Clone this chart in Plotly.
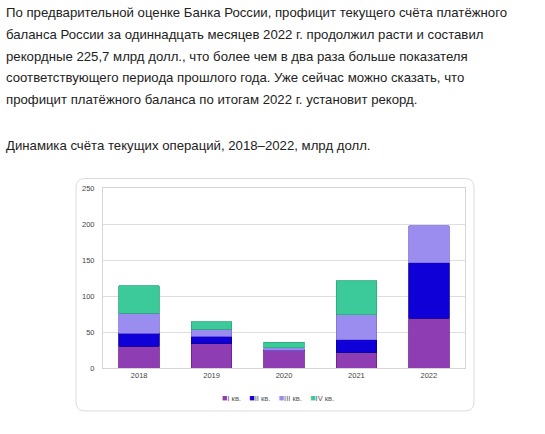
import plotly.graph_objects as go

W, H = 545, 434
# plot area in pixels
PL, PR, PT, PB = 103, 465, 188, 368

years = ["2018", "2019", "2020", "2021", "2022"]
quarters = ["I кв.", "II кв.", "III кв.", "IV кв."]
q1 = [30.0, 33.6, 23.8, 21.0, 69.0]
q2 = [18.0, 10.2, 1.0, 18.0, 77.3]
q3 = [28.0, 10.0, 3.5, 35.0, 51.4]
q4 = [38.3, 10.7, 7.3, 47.3, None]
y_ticks = [0, 50, 100, 150, 200, 250]

fills = ["#8f3db3", "#1000d8", "#9b8cf0", "#3cca9a"]
edges = ["#6a1f8a", "#0a0090", "#7e6fd8", "#2aa77c"]

PARAGRAPH = [
    "По предварительной оценке Банка России, профицит текущего счёта платёжного",
    "баланса России за одиннадцать месяцев 2022 г. продолжил расти и составил",
    "рекордные 225,7 млрд долл., что более чем в два раза больше показателя",
    "соответствующего периода прошлого года. Уже сейчас можно сказать, что",
    "профицит платёжного баланса по итогам 2022 г. установит рекорд.",
]
CAPTION = "Динамика счёта текущих операций, 2018–2022, млрд долл."
TEXT_FONT = dict(family="Liberation Sans, Arial", size=13.2, color="#222")


def px(x):
    return (x - PL) / (PR - PL)


def py(y):
    return (PB - y) / (PB - PT)


fig = go.Figure()
for name, vals, fc, ec in zip(quarters, [q1, q2, q3, q4], fills, edges):
    fig.add_trace(go.Bar(
        x=years, y=vals, name=name,
        marker=dict(color=fc, line=dict(color=ec, width=0.8)),
    ))

# text block above the chart
for i, line in enumerate(PARAGRAPH):
    fig.add_annotation(
        x=px(5), y=py(13 + i * 21.6), xref="paper", yref="paper",
        text=line, showarrow=False, xanchor="left", yanchor="middle",
        font=TEXT_FONT, borderpad=0,
    )
fig.add_annotation(
    x=px(5), y=py(145), xref="paper", yref="paper",
    text=CAPTION, showarrow=False, xanchor="left", yanchor="middle",
    font=TEXT_FONT, borderpad=0,
)

# compact legend, drawn as one line of text
legend_txt = "    ".join(
    f"<span style='color:{c};font-size:9px'>■</span>{q}"
    for q, c in zip(quarters, fills)
)
fig.add_annotation(
    x=px(278), y=py(398), xref="paper", yref="paper", text=legend_txt,
    showarrow=False, xanchor="center", yanchor="middle",
    font=dict(family="Liberation Sans, Arial", size=7.5, color="#555"),
)

# rounded card around the chart
x0, x1, y0, y1, r = px(76), px(474), py(411), py(178.5), 9
rx, ry = r / (PR - PL), r / (PB - PT)
path = (f"M {x0+rx},{y1} L {x1-rx},{y1} Q {x1},{y1} {x1},{y1-ry} "
        f"L {x1},{y0+ry} Q {x1},{y0} {x1-rx},{y0} L {x0+rx},{y0} "
        f"Q {x0},{y0} {x0},{y0+ry} L {x0},{y1-ry} Q {x0},{y1} {x0+rx},{y1} Z")
fig.add_shape(type="path", path=path, xref="paper", yref="paper",
              line=dict(color="#dcdcdc", width=1), layer="below")

fig.update_layout(
    width=W, height=H,
    margin=dict(l=PL, r=W - PR, t=PT, b=H - PB, pad=0),
    barmode="stack", bargap=0.44,
    paper_bgcolor="white", plot_bgcolor="white",
    showlegend=False,
    font=dict(family="Liberation Sans, Arial"),
)
fig.update_xaxes(
    showline=True, linecolor="#d6d6d6", mirror=True, showgrid=False,
    tickfont=dict(size=7.5, color="#444"), ticks="",
)
fig.update_yaxes(
    range=[0, 250], tickvals=y_ticks, showline=True, linecolor="#d6d6d6",
    mirror=True, gridcolor="#dedede", zeroline=False,
    tickfont=dict(size=7.5, color="#444"), ticks="", ticklabelstandoff=6,
)

# page body has a default 8px margin; drop it so the figure sits at 0,0
fig.write_html("out.html", config={"displayModeBar": False},
               post_script="document.body.style.margin='0';")
